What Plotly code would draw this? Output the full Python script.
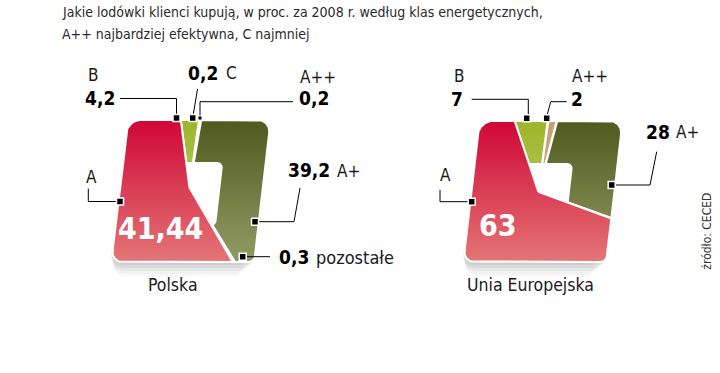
import numpy as np
import plotly.graph_objects as go

# ---------------- data ----------------
title_lines = ["Jakie lodówki klienci kupują, w proc. za 2008 r. według klas energetycznych,",
               "A++ najbardziej efektywna, C najmniej"]
pl_classes = ["C", "A++", "A+", "pozostałe", "A", "B"]
pl_values = [0.2, 0.2, 39.2, 0.3, 41.44, 4.2]
pl_labels = ["0,2", "0,2", "39,2", "0,3", "41,44", "4,2"]
eu_classes = ["A++", "A+", "A", "B"]
eu_values = [2, 28, 63, 7]
eu_labels = ["2", "28", "63", "7"]
panel_names = ["Polska", "Unia Europejska"]
source = "źródło: CECED"

# ---------------- style ----------------
COLORS = {
    "A": ("rgb(208,6,54)", "rgb(228,118,118)"),
    "A+": ("rgb(80,90,30)", "rgb(145,155,100)"),
    "B": ("rgb(158,180,40)", "rgb(200,214,135)"),
    "A++": ("rgb(196,160,112)", "rgb(220,196,160)"),
    "C": ("rgb(150,150,150)", "rgb(190,190,190)"),
    "pozostałe": ("rgb(150,150,150)", "rgb(190,190,190)"),
}
K = 0.115      # shear of the rounded square
YREF = 191.0
COND = "DejaVu Sans Condensed, DejaVu Sans, sans-serif"


def inside_rr(x, y, box, radii):
    x0, y0, x1, y1 = box
    if x < x0 or x > x1 or y < y0 or y > y1:
        return False
    mx, my = (x0 + x1) / 2, (y0 + y1) / 2
    if y < my:
        r = radii[0] if x < mx else radii[1]
    else:
        r = radii[3] if x < mx else radii[2]
    cx = min(max(x, x0 + r), x1 - r)
    cy = min(max(y, y0 + r), y1 - r)
    return (x - cx) ** 2 + (y - cy) ** 2 <= r * r + 1e-9


def ray_hit(c, ang, box, radii):
    a = np.radians(ang)
    dx, dy = np.sin(a), -np.cos(a)
    lo, hi = 0.0, 400.0
    for _ in range(40):
        mid = (lo + hi) / 2
        if inside_rr(c[0] + dx * mid, c[1] + dy * mid, box, radii):
            lo = mid
        else:
            hi = mid
    return c[0] + dx * lo, c[1] + dy * lo


def shear(xs, ys):
    xs = np.asarray(xs, float)
    ys = np.asarray(ys, float)
    return xs - K * (ys - YREF), ys


def rr_outline(box, radii, n=16):
    x0, y0, x1, y1 = box
    tl, tr, br, bl = radii
    pts = []
    for cx, cy, r, a0 in [(x0 + tl, y0 + tl, tl, 180), (x1 - tr, y0 + tr, tr, 270),
                          (x1 - br, y1 - br, br, 0), (x0 + bl, y1 - bl, bl, 90)]:
        for t in np.linspace(a0, a0 + 90, n):
            pts.append((cx + r * np.cos(np.radians(t)), cy + r * np.sin(np.radians(t))))
    pts.append(pts[0])
    return [p[0] for p in pts], [p[1] for p in pts]


fig = go.Figure()


def add_panel(classes, values, box, center, hole, start, radii):
    # the "A" sector fills what is left up to 100 %
    others = sum(v for c, v in zip(classes, values) if c != "A")
    shares = [v if c != "A" else 100 - others for c, v in zip(classes, values)]
    # soft shadow under the shape
    for dxs, dys, shrink, op in [(-1, 3, 0, 0.08), (-2, 6, 2, 0.07), (-3, 9, 4, 0.05),
                                 (-4, 12, 6, 0.04), (-5, 15, 8, 0.03)]:
        sb = (box[0] + shrink, box[1] + 30, box[2] - shrink, box[3])
        ox, oy = rr_outline(sb, radii)
        sx, sy = shear(np.array(ox) + dxs, np.array(oy) + dys)
        fig.add_trace(go.Scatter(x=sx, y=sy, mode="lines", fill="toself",
                                 fillcolor=f"rgba(60,60,60,{op})", line=dict(width=0),
                                 hoverinfo="skip", showlegend=False))
    angs = []
    a = start
    for s in shares:
        angs.append((a, a + s * 3.6))
        a += s * 3.6
    order = [i for i, c in enumerate(classes) if c != "A"] + ["hole"] + \
            [i for i, c in enumerate(classes) if c == "A"]
    for i in order:
        if i == "hole":
            hx, hy = rr_outline(hole, (5, 6, 5, 5))
            sx, sy = shear(hx, hy)
            fig.add_trace(go.Scatter(x=sx, y=sy, mode="lines", fill="toself", fillcolor="white",
                                     line=dict(width=0, color="white"), hoverinfo="skip",
                                     showlegend=False))
            continue
        a0, a1 = angs[i]
        n = max(3, int((a1 - a0) / 0.5) + 2)
        pts = [center] + [ray_hit(center, t, box, radii) for t in np.linspace(a0, a1, n)] + [center]
        sx, sy = shear([p[0] for p in pts], [p[1] for p in pts])
        ctop, cbot = COLORS[classes[i]]
        fig.add_trace(go.Scatter(
            x=sx, y=sy, mode="lines", fill="toself",
            fillgradient=dict(type="vertical", colorscale=[[0, ctop], [1, cbot]],
                              start=box[1], stop=box[3]),
            line=dict(color="white", width=2), hoverinfo="skip", showlegend=False))


add_panel(pl_classes, pl_values, (119.5, 120, 262.5, 262), (189.0, 187.5),
          (165, 162, 220, 226), 1.5, (13, 13, 6, 11))
add_panel(eu_classes, eu_values, (471.5, 121, 614.5, 262), (538.4, 191.7),
          (515, 163, 570, 232), 1.0, (13, 13, 6, 11))

# ---------------- callouts ----------------
leaders = [
    [(120, 98.5), (176.5, 98.5), (176.5, 116)],
    [(193, 116), (197.5, 89)],
    [(200, 116), (200, 101.7), (293, 101.7)],
    [(88.3, 188.5), (88.3, 201.5), (120, 201.5)],
    [(255, 221.7), (294, 221.7), (300, 188)],
    [(242.7, 256.7), (270, 256.7)],
    [(471.7, 99.3), (528.3, 99.3), (528.3, 116)],
    [(546.7, 116.7), (550.7, 101.7), (566.7, 101.7)],
    [(611.7, 185), (650, 185), (656.7, 151.7)],
    [(440, 190), (440, 201.7), (471.7, 201.7)],
]
for ln in leaders:
    fig.add_trace(go.Scatter(x=[p[0] for p in ln], y=[p[1] for p in ln], mode="lines",
                             line=dict(color="black", width=1), hoverinfo="skip", showlegend=False))
markers = [(176.5, 118), (192.7, 118), (255, 221.7), (120, 201.5), (242.7, 256.7),
           (526.7, 118.3), (546.7, 118.3), (611.7, 185), (471.7, 201.7)]
fig.add_trace(go.Scatter(x=[m[0] for m in markers], y=[m[1] for m in markers], mode="markers",
                         marker=dict(symbol="square", size=7, color="black",
                                     line=dict(color="white", width=1.5)),
                         hoverinfo="skip", showlegend=False))
fig.add_trace(go.Scatter(x=[200], y=[118], mode="markers",
                         marker=dict(symbol="square", size=4, color="black",
                                     line=dict(color="white", width=1)),
                         hoverinfo="skip", showlegend=False))


def txt(x, y, s, size=17, bold=False, color="#1a1a1a", anchor="center", font=COND, angle=0):
    fig.add_annotation(x=x, y=y, text=f"<b>{s}</b>" if bold else s, showarrow=False,
                       xref="x", yref="y", xanchor=anchor, yanchor="middle", textangle=angle,
                       font=dict(size=size, color=color, family=font))


NUM = 19
BIG = 30
pl = dict(zip(pl_classes, pl_labels))
eu = dict(zip(eu_classes, eu_labels))
# Polska
txt(93, 75, "B")
txt(100, 98, pl["B"], NUM, True, "black")
txt(202.5, 73, pl["C"], NUM, True, "black")
txt(231.7, 73, "C")
txt(318, 76.5, "A++")
txt(313.5, 98, pl["A++"], NUM, True, "black")
txt(91.7, 176.5, "A")
txt(160, 228, pl["A"], BIG, True, "white")
txt(309, 170, pl["A+"], NUM, True, "black")
txt(348, 171, "A+")
txt(294, 257, pl["pozostałe"], NUM, True, "black")
txt(355, 257, "pozostałe", 18)
txt(173, 285, panel_names[0], 17.5)
# EU
txt(459.3, 75.7, "B")
txt(456.7, 99.3, eu["B"], NUM, True, "black")
txt(590, 75.7, "A++")
txt(576.7, 99.3, eu["A++"], NUM, True, "black")
txt(658.3, 131.7, eu["A+"], NUM, True, "black")
txt(687, 132.3, "A+")
txt(445, 175, "A")
txt(498.3, 225, eu["A"], BIG, True, "white")
txt(530, 285, panel_names[1], 17.5)
# source
txt(706.7, 231, source, 12, color="#333333", angle=-90)
# title
txt(60, 12, title_lines[0], 14, color="#2a2a2a", anchor="left")
txt(60, 34, title_lines[1], 14, color="#2a2a2a", anchor="left")

fig.update_layout(
    width=720, height=373, margin=dict(l=0, r=0, t=0, b=0),
    paper_bgcolor="white", plot_bgcolor="white", showlegend=False,
    xaxis=dict(range=[0, 720], visible=False, fixedrange=True),
    yaxis=dict(range=[373, 0], visible=False, fixedrange=True),
)
fig.write_html("out.html")
